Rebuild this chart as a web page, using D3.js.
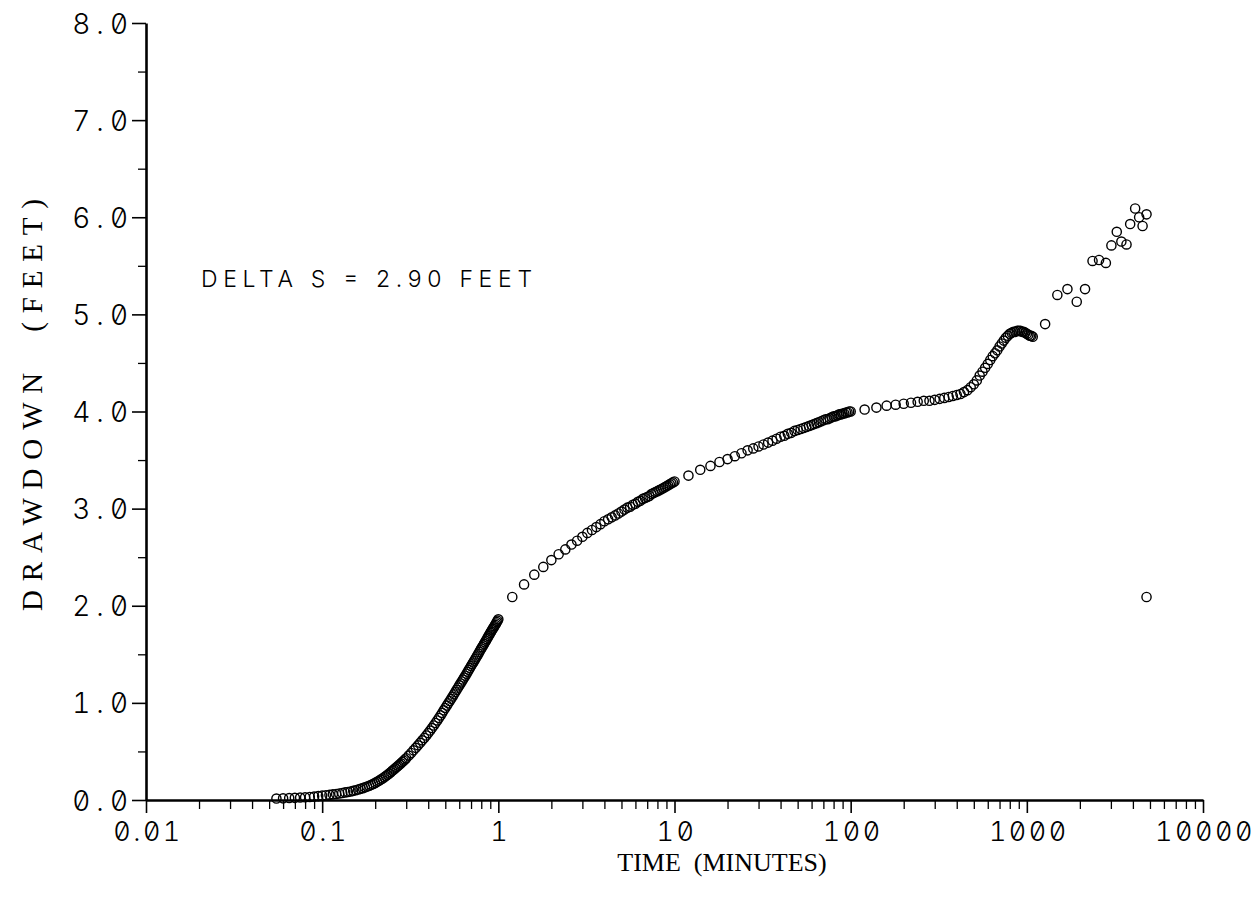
<!DOCTYPE html>
<html>
<head>
<meta charset="utf-8">
<script src="https://cdn.jsdelivr.net/npm/d3@7"></script>
<style>
  html, body { margin: 0; padding: 0; background: #fff; }
  svg { display: block; }
  .tick-label { font-family: Inter, "DejaVu Sans", sans-serif; font-weight: 300; font-feature-settings: "zero" 1, "tnum" 1; fill: #000; }
  .title { font-family: "Liberation Serif", "DejaVu Serif", serif; fill: #000; white-space: pre; }
  .note { font-family: Inter, "Liberation Sans", sans-serif; font-weight: 300; fill: #000; }
</style>
</head>
<body>
<svg id="chart" width="1254" height="900"></svg>
<script>
// ---------------- DATA ----------------
// Early time (minutes) and drawdown (feet)
const timeEarly = [0.055,0.060,0.065,0.070,0.075,0.080,0.085,0.090,0.095,0.100,
  0.105,0.110,0.115,0.120,0.125,0.130,0.135,0.140,0.145,0.150,
  0.155,0.160,0.165,0.170,0.175,0.180,0.185,0.190,0.195,0.200,
  0.205,0.210,0.215,0.220,0.225,0.230,0.235,0.240,0.245,0.250,
  0.255,0.260,0.265,0.270,0.275,0.280,0.285,0.290,0.295,0.300,
  0.31,0.32,0.33,0.34,0.35,0.36,0.37,0.38,0.39,0.40,
  0.41,0.42,0.43,0.44,0.45,0.46,0.47,0.48,0.49,0.50,
  0.51,0.52,0.53,0.54,0.55,0.56,0.57,0.58,0.59,0.60,
  0.61,0.62,0.63,0.64,0.65,0.66,0.67,0.68,0.69,0.70,
  0.71,0.72,0.73,0.74,0.75,0.76,0.77,0.78,0.79,0.80,
  0.81,0.82,0.83,0.84,0.85,0.86,0.87,0.88,0.89,0.90,
  0.91,0.92,0.93,0.94,0.95,0.96,0.97,0.98,0.99,1.00];
const drawdownEarly = [0.015,0.017,0.020,0.022,0.025,0.028,0.031,0.035,0.040,0.045,
  0.049,0.053,0.058,0.062,0.067,0.072,0.078,0.083,0.088,0.094,
  0.101,0.108,0.115,0.122,0.130,0.138,0.147,0.156,0.166,0.176,
  0.187,0.198,0.210,0.222,0.234,0.246,0.259,0.272,0.286,0.300,
  0.313,0.326,0.339,0.352,0.365,0.378,0.391,0.404,0.417,0.430,
  0.457,0.484,0.511,0.537,0.563,0.589,0.614,0.639,0.664,0.689,
  0.715,0.741,0.767,0.793,0.819,0.845,0.871,0.897,0.923,0.948,
  0.972,0.996,1.019,1.042,1.065,1.088,1.111,1.134,1.157,1.180,
  1.200,1.220,1.240,1.260,1.280,1.300,1.320,1.340,1.360,1.380,
  1.398,1.416,1.434,1.452,1.470,1.488,1.506,1.524,1.542,1.560,
  1.576,1.592,1.608,1.624,1.640,1.656,1.672,1.688,1.704,1.720,
  1.734,1.748,1.762,1.776,1.790,1.804,1.818,1.832,1.846,1.860];

const timeMid1 = [1.2,1.4,1.6,1.8,2.0,2.2,2.4,2.6,2.8,3.0,3.2,3.4,3.6,3.8,4.0,
  4.2,4.4,4.6,4.8,5.0,5.2,5.4,5.6,5.8,6.0,6.2,6.4,6.6,6.8,7.0,
  7.2,7.4,7.6,7.8,8.0,8.2,8.4,8.6,8.8,9.0,9.2,9.4,9.6,9.8,10.0];
const drawdownMid1 = [2.09,2.22,2.32,2.40,2.47,2.53,2.58,2.63,2.67,2.71,2.75,2.78,2.81,2.84,2.87,
  2.89,2.91,2.93,2.95,2.97,2.99,3.01,3.02,3.04,3.05,3.07,3.08,3.10,3.11,3.12,
  3.13,3.15,3.16,3.17,3.18,3.19,3.20,3.21,3.22,3.23,3.24,3.25,3.26,3.27,3.28];

const timeMid2 = [12,14,16,18,20,22,24,26,28,30,32,34,36,38,40,
  42,44,46,48,50,52,54,56,58,60,62,64,66,68,70,
  72,74,76,78,80,82,84,86,88,90,92,94,96,98,100];
const drawdownMid2 = [3.34,3.40,3.44,3.48,3.51,3.54,3.57,3.60,3.62,3.64,3.66,3.68,3.70,3.72,3.74,
  3.75,3.77,3.78,3.80,3.81,3.82,3.83,3.84,3.85,3.86,3.87,3.88,3.89,3.90,3.91,
  3.92,3.92,3.93,3.94,3.95,3.95,3.96,3.97,3.97,3.98,3.98,3.99,3.99,4.00,4.00];

const timeLate = [120,140,160,180,200,220,240,260,280,300,320,340,360,380,400,
  420,440,460,480,500,520,540,560,580,600,620,640,660,680,700,
  720,740,760,780,800,820,840,860,880,900,920,940,960,980,1000,
  1020,1040,1060,1080];
const drawdownLate = [4.02,4.04,4.06,4.07,4.08,4.09,4.10,4.11,4.11,4.12,4.13,4.14,4.15,4.16,4.17,
  4.18,4.20,4.22,4.25,4.28,4.32,4.37,4.41,4.45,4.49,4.53,4.57,4.60,4.63,4.67,
  4.70,4.73,4.76,4.78,4.80,4.81,4.82,4.82,4.83,4.83,4.83,4.82,4.82,4.81,4.80,
  4.79,4.78,4.78,4.77];

const timeFinal = [1270,1490,1700,1920,2140,2360,2570,2810,3020,3240,3440,3680,3860,4120,4340,4540,4780,4780];
const drawdownFinal = [4.90,5.20,5.26,5.13,5.26,5.55,5.56,5.53,5.71,5.85,5.75,5.72,5.93,6.09,6.00,5.91,6.03,2.09];

const xTickValues = [0.01, 0.1, 1, 10, 100, 1000, 10000];
const xTickLabels = ["0.01", "0.1", "1", "10", "100", "1000", "10000"];
const yTickValues = [0, 1, 2, 3, 4, 5, 6, 7, 8];
const yTickLabels = ["0.0", "1.0", "2.0", "3.0", "4.0", "5.0", "6.0", "7.0", "8.0"];
const xTitle = "TIME  (MINUTES)";
const yTitle = "DRAWDOWN  (FEET)";
const noteText = "DELTA S = 2.90 FEET";

// ---------------- CHART ----------------
const svg = d3.select("#chart");
const x = d3.scaleLog().domain([0.01, 10000]).range([146, 1203]);
const y = d3.scaleLinear().domain([0, 8]).range([800, 23]);

const points = [];
[[timeEarly, drawdownEarly], [timeMid1, drawdownMid1], [timeMid2, drawdownMid2],
 [timeLate, drawdownLate], [timeFinal, drawdownFinal]].forEach(([ts, ds]) => {
  ts.forEach((t, i) => points.push({ t: t, s: ds[i] }));
});

// minor ticks
const xMinor = [];
for (let dec = 0.01; dec < 10000; dec *= 10) {
  for (let k = 2; k <= 9; k++) xMinor.push(+(dec * k).toPrecision(6));
}
const yMinor = d3.range(0.5, 8, 1);

// X axis
const xAxisG = svg.append("g").attr("transform", `translate(0,${y(0)})`);
xAxisG.call(d3.axisBottom(x).tickValues(xMinor).tickSize(9).tickFormat(""))
  .call(g => g.select(".domain").remove())
  .call(g => g.selectAll(".tick line").attr("stroke", "#000").attr("stroke-width", 1.3));
xAxisG.append("g")
  .call(d3.axisBottom(x).tickValues(xTickValues).tickSize(13).tickSizeOuter(0)
    .tickFormat((d, i) => xTickLabels[i]))
  .call(g => g.select(".domain").attr("stroke", "#000").attr("stroke-width", 2.6))
  .call(g => g.selectAll(".tick line").attr("stroke", "#000").attr("stroke-width", 1.6))
  .call(g => g.selectAll(".tick text")
    .attr("class", "tick-label")
    .attr("y", 22).attr("dy", "0.71em")
    .attr("dx", "1.5")
    .style("font-size", "27px").style("letter-spacing", "2.5px")
    .attr("fill", "#000"));

// Y axis
const yAxisG = svg.append("g").attr("transform", `translate(${x(0.01)},0)`);
yAxisG.call(d3.axisLeft(y).tickValues(yMinor).tickSize(8).tickFormat(""))
  .call(g => g.select(".domain").remove())
  .call(g => g.selectAll(".tick line").attr("stroke", "#000").attr("stroke-width", 1.3));
yAxisG.append("g")
  .call(d3.axisLeft(y).tickValues(yTickValues).tickSize(14).tickSizeOuter(0)
    .tickFormat((d, i) => yTickLabels[i]))
  .call(g => g.select(".domain").attr("stroke", "#000").attr("stroke-width", 2.6))
  .call(g => g.selectAll(".tick text")
    .attr("class", "tick-label")
    .attr("x", -12).attr("dy", "0.36em")
    .style("font-size", "28px").style("letter-spacing", "6px")
    .attr("fill", "#000"))
  .call(g => g.selectAll(".tick line").attr("stroke", "#000").attr("stroke-width", 1.6));

// Axis titles
svg.append("text").attr("class", "title")
  .attr("x", 722).attr("y", 871)
  .attr("text-anchor", "middle")
  .style("font-size", "26px")
  .text(xTitle);

svg.append("text").attr("class", "title")
  .attr("transform", "translate(42,405) rotate(-90)")
  .attr("text-anchor", "middle")
  .attr("textLength", 412).attr("lengthAdjust", "spacing")
  .style("font-size", "29px")
  .text(yTitle);

// Annotation
svg.append("text").attr("class", "note")
  .attr("x", 201).attr("y", 287)
  .attr("textLength", 331).attr("lengthAdjust", "spacing")
  .style("font-size", "23px")
  .text(noteText);

// Points
svg.append("g").selectAll("circle")
  .data(points)
  .join("circle")
  .attr("cx", d => x(d.t))
  .attr("cy", d => y(d.s))
  .attr("r", 4.6)
  .attr("fill", "none")
  .attr("stroke", "#000")
  .attr("stroke-width", 1.4);
</script>
</body>
</html>
